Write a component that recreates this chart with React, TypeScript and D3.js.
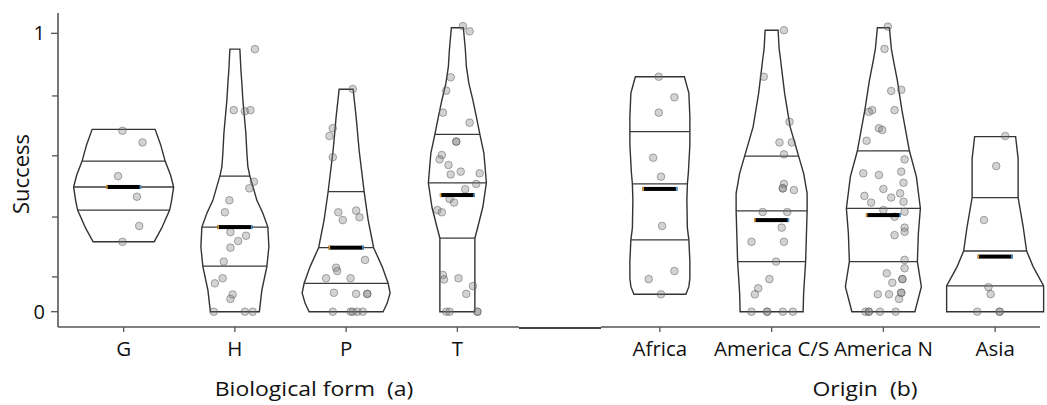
import React from "react";
import * as d3 from "d3";

// categories
const formCats = ["G", "H", "P", "T"];
const originCats = ["Africa", "America C/S", "America N", "Asia"];

// y-axis ticks
const yLabelTicks = [0, 1];
const yMinorTicks = [0.125, 0.34, 0.56, 0.775];

// success values per group and horizontal jitter (fraction of band)
const gVals = [0.65, 0.608, 0.487, 0.413, 0.308, 0.251];
const gJit = [-0.01, 0.17, -0.05, 0.12, 0.14, -0.01];

const hVals = [0.943, 0.724, 0.72, 0.724, 0.467, 0.443, 0.4, 0.357, 0.286, 0.254, 0.273, 0.23, 0.18, 0.12, 0.102, 0.062, 0.046, 0, 0, 0];
const hJit = [0.18, -0.01, 0.09, 0.14, 0.17, 0.13, -0.05, -0.09, -0.04, 0.03, 0.1, -0.04, -0.1, -0.11, -0.18, -0.02, -0.04, -0.19, 0.09, 0.16];

const pVals = [0.8, 0.659, 0.631, 0.555, 0.357, 0.329, 0.363, 0.339, 0.186, 0.158, 0.146, 0.12, 0.12, 0.068, 0.064, 0.064, 0.064, 0, 0, 0, 0, 0];
const pJit = [0.06, -0.12, -0.15, -0.12, -0.07, -0.03, 0.09, 0.12, 0.17, -0.09, -0.08, -0.18, 0.04, -0.11, 0.09, 0.19, 0.19, -0.12, 0.04, 0.06, 0.1, 0.15];

const tVals = [1.026, 1.007, 0.842, 0.794, 0.715, 0.679, 0.611, 0.611, 0.563, 0.547, 0.527, 0.493, 0.503, 0.497, 0.459, 0.44, 0.405, 0.392, 0.365, 0.357, 0.132, 0.116, 0.12, 0.092, 0.064, 0, 0, 0, 0];
const tJit = [0.05, 0.11, -0.06, -0.1, -0.13, 0.11, -0.01, -0.01, -0.14, -0.16, -0.08, -0.06, 0.03, 0.2, 0.17, 0.07, -0.07, -0.03, -0.18, -0.14, -0.13, -0.12, 0.01, 0.14, 0.08, -0.1, -0.07, 0.18, 0.18];

const afVals = [0.844, 0.77, 0.715, 0.553, 0.485, 0.308, 0.117, 0.146, 0.0625];
const afJit = [-0.01, 0.13, -0.01, -0.06, 0.01, 0.02, -0.1, 0.13, 0.01];

const csVals = [1.011, 0.844, 0.682, 0.608, 0.608, 0.565, 0.459, 0.443, 0.443, 0.437, 0.358, 0.358, 0.302, 0.251, 0.251, 0.18, 0.117, 0.084, 0.0625, 0, 0, 0, 0, 0];
const csJit = [0.11, -0.07, 0.16, 0.07, 0.18, 0.11, 0.11, 0.1, 0.1, 0.2, -0.08, 0.14, 0.09, -0.18, 0.11, 0.04, -0.02, -0.12, -0.15, -0.18, -0.04, -0.04, 0.1, 0.19];

const naVals = [1.024, 0.944, 0.793, 0.797, 0.724, 0.718, 0.724, 0.659, 0.653, 0.614, 0.547, 0.497, 0.491, 0.503, 0.463, 0.441, 0.416, 0.392, 0.41, 0.425, 0.395, 0.365, 0.341, 0.359, 0.302, 0.287, 0.275, 0.186, 0.156, 0.138, 0.117, 0.117, 0.104, 0.0625, 0.0625, 0.068, 0.068, 0.046, 0, 0, 0, 0, 0];
const naJit = [0.04, 0.01, 0.07, 0.16, -0.1, -0.13, 0.1, -0.04, -0.01, -0.15, 0.19, -0.18, -0.04, 0.16, 0.18, 0, -0.17, -0.11, 0.07, 0.15, 0.18, 0, 0.1, 0.19, 0.19, 0.19, 0.1, 0.19, 0.19, 0.03, 0.17, 0.17, 0.08, -0.05, 0.05, 0.16, 0.16, 0.14, -0.16, -0.13, -0.13, -0.03, 0.11];

const asVals = [0.631, 0.523, 0.329, 0.088, 0.063, 0, 0, 0];
const asJit = [0.09, 0.01, -0.1, -0.06, -0.04, -0.16, 0.04, 0.04];

// density outline: [success, relative half width]
const gShape = [[0.251, 0.61], [0.3, 0.76], [0.365, 0.92], [0.4, 0.96], [0.448, 1.0], [0.49, 0.94], [0.541, 0.83], [0.6, 0.74], [0.655, 0.63]];
const hShape = [[0, 0.49], [0.078, 0.54], [0.162, 0.64], [0.233, 0.68], [0.304, 0.66], [0.354, 0.56], [0.4, 0.44], [0.45, 0.36], [0.487, 0.3], [0.52, 0.26], [0.57, 0.24], [0.64, 0.22], [0.76, 0.16], [0.82, 0.14], [0.87, 0.12], [0.943, 0.1]];
const pShape = [[0, 0.74], [0.03, 0.82], [0.067, 0.88], [0.102, 0.84], [0.162, 0.72], [0.23, 0.55], [0.33, 0.44], [0.431, 0.36], [0.58, 0.26], [0.7, 0.2], [0.799, 0.14]];
const tShape = [[0, 0.35], [0.264, 0.35], [0.305, 0.41], [0.377, 0.51], [0.463, 0.58], [0.57, 0.53], [0.637, 0.45], [0.7, 0.38], [0.76, 0.31], [0.82, 0.23], [0.88, 0.18], [0.94, 0.16], [1.02, 0.12]];
const afShape = [[0.0625, 0.52], [0.09, 0.58], [0.12, 0.6], [0.18, 0.6], [0.258, 0.58], [0.3, 0.55], [0.4, 0.54], [0.459, 0.55], [0.5, 0.57], [0.6, 0.6], [0.7, 0.6], [0.785, 0.58], [0.844, 0.49]];
const csShape = [[0, 0.63], [0.066, 0.64], [0.18, 0.68], [0.362, 0.71], [0.425, 0.71], [0.497, 0.64], [0.559, 0.54], [0.664, 0.37], [0.784, 0.26], [0.873, 0.2], [0.904, 0.18], [0.945, 0.15], [1.011, 0.13]];
const naShape = [[0, 0.63], [0.09, 0.76], [0.18, 0.68], [0.282, 0.7], [0.371, 0.74], [0.485, 0.66], [0.578, 0.52], [0.725, 0.37], [0.83, 0.28], [0.904, 0.2], [0.944, 0.16], [1.02, 0.12]];
const asShape = [[0, 0.97], [0.093, 0.97], [0.162, 0.76], [0.218, 0.63], [0.306, 0.56], [0.41, 0.46], [0.55, 0.46], [0.629, 0.41]];

// quantile lines [q1, median, q3] and mean
const formQuant = [[0.365, 0.448, 0.541], [0.164, 0.304, 0.487], [0.102, 0.23, 0.431], [0.264, 0.463, 0.637]];
const formMean = [0.448, 0.304, 0.23, 0.419];
const originQuant = [[0.258, 0.459, 0.647], [0.18, 0.362, 0.559], [0.18, 0.371, 0.578], [0.093, 0.218, 0.41]];
const originMean = [0.441, 0.329, 0.347, 0.198];

const formGroups = [
  { vals: gVals, jit: gJit, shape: gShape },
  { vals: hVals, jit: hJit, shape: hShape },
  { vals: pVals, jit: pJit, shape: pShape },
  { vals: tVals, jit: tJit, shape: tShape },
];
const originGroups = [
  { vals: afVals, jit: afJit, shape: afShape },
  { vals: csVals, jit: csJit, shape: csShape },
  { vals: naVals, jit: naJit, shape: naShape },
  { vals: asVals, jit: asJit, shape: asShape },
];

const W = 1047;
const H = 405;
const axisX = 58;
const axisY = 327;
const font = "'Open Sans', 'DejaVu Sans', sans-serif";

const y = d3.scaleLinear().domain([0, 1]).range([311.7, 33.3]);
const xForm = d3.scaleBand().domain(formCats).range([68, 513]).padding(0);
const xOrigin = d3.scaleBand().domain(originCats).range([604, 1051]).padding(0);
const w = d3.scaleLinear().domain([0, 1]).range([0, 50]);

const halfAt = (shape, v) => {
  for (let i = 0; i < shape.length - 1; i++) {
    const [v0, d0] = shape[i];
    const [v1, d1] = shape[i + 1];
    if (v >= v0 && v <= v1) return d0 + ((v - v0) / (v1 - v0)) * (d1 - d0);
  }
  return shape[shape.length - 1][1];
};

const Violin = ({ cx, step, group, quant, mean }) => {
  const area = d3.area()
    .x0(d => cx - w(d[1]))
    .x1(d => cx + w(d[1]))
    .y(d => y(d[0]));
  return (
    <g>
      <path d={area(group.shape)} fill="none" stroke="#333" strokeWidth={1.4} />
      {quant.map((q, i) => {
        const hw = w(halfAt(group.shape, q));
        return <line key={i} x1={cx - hw} x2={cx + hw} y1={y(q)} y2={y(q)} stroke="#3a3a3a" strokeWidth={1.3} />;
      })}
      {group.vals.map((v, i) => (
        <circle key={i} cx={cx + group.jit[i] * step} cy={y(v)} r={3.8}
          fill="rgba(120,120,120,0.33)" stroke="rgba(90,90,90,0.5)" strokeWidth={1} />
      ))}
      <rect x={cx - 17.5} y={y(mean) - 2} width={35} height={4} fill="#000" />
      <rect x={cx - 17.5} y={y(mean) - 2} width={1.5} height={4} fill="#f0a030" />
      <rect x={cx + 16} y={y(mean) - 2} width={1.5} height={4} fill="#4aa0e0" />
    </g>
  );
};

const Title = ({ x, yy, text }) => (
  <text transform={`translate(${x},${yy}) scale(1.15,1)`} textAnchor="middle" fontFamily={font}
    fontSize={20} fill="#111" style={{ whiteSpace: "pre" }}>{text}</text>
);

const Cat = ({ x, text }) => (
  <text x={x} y={356} textAnchor="middle" fontFamily={font} fontSize={20.5} fill="#111">{text}</text>
);

export default function App() {
  const fStep = xForm.step();
  const oStep = xOrigin.step();
  const fc = c => xForm(c) + xForm.bandwidth() / 2;
  const oc = c => xOrigin(c) + xOrigin.bandwidth() / 2;
  return (
    <svg width={W} height={H} style={{ position: "absolute", left: 0, top: 0, background: "#fff" }}>
      {/* axes */}
      <line x1={axisX} x2={axisX} y1={13} y2={axisY} stroke="#555" strokeWidth={1.6} />
      <line x1={axisX} x2={519} y1={axisY} y2={axisY} stroke="#555" strokeWidth={1.6} />
      <line x1={519} x2={601} y1={axisY + 1} y2={axisY + 1} stroke="#444" strokeWidth={1.8} />
      <line x1={601} x2={1040} y1={axisY} y2={axisY} stroke="#555" strokeWidth={1.6} />
      {yLabelTicks.map(t => (
        <g key={t}>
          <line x1={axisX - 7} x2={axisX} y1={y(t)} y2={y(t)} stroke="#555" strokeWidth={1.3} />
          <text x={45} y={y(t)} dy="0.35em" textAnchor="end" fontFamily={font} fontSize={20} fill="#111">{t}</text>
        </g>
      ))}
      {yMinorTicks.map(t => (
        <line key={t} x1={axisX - 6} x2={axisX} y1={y(t)} y2={y(t)} stroke="#555" strokeWidth={1.3} />
      ))}
      {formCats.map(c => (
        <line key={c} x1={fc(c)} x2={fc(c)} y1={axisY} y2={axisY + 5} stroke="#555" strokeWidth={1.3} />
      ))}
      {originCats.map(c => (
        <line key={c} x1={oc(c)} x2={oc(c)} y1={axisY} y2={axisY + 5} stroke="#555" strokeWidth={1.3} />
      ))}

      {/* violins */}
      {formCats.map((c, i) => (
        <Violin key={c} cx={fc(c)} step={fStep} group={formGroups[i]} quant={formQuant[i]} mean={formMean[i]} />
      ))}
      {originCats.map((c, i) => (
        <Violin key={c} cx={oc(c)} step={oStep} group={originGroups[i]} quant={originQuant[i]} mean={originMean[i]} />
      ))}

      {/* labels */}
      {formCats.map(c => <Cat key={c} x={fc(c)} text={c} />)}
      {originCats.map(c => <Cat key={c} x={oc(c)} text={c} />)}
      <Title x={314} yy={396} text={"Biological form  (a)"} />
      <Title x={865} yy={396} text={"Origin  (b)"} />
      <text transform="translate(29,174) rotate(-90)" textAnchor="middle" fontFamily={font} fontSize={22} fill="#111">Success</text>
    </svg>
  );
}
